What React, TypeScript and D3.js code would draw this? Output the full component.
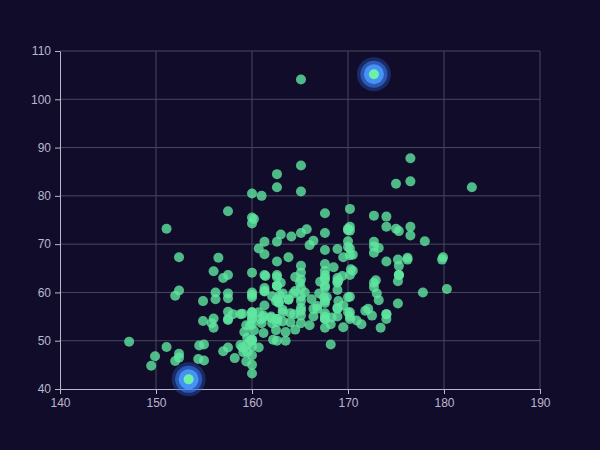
import React, { useEffect, useRef } from 'react';
import * as d3 from 'd3';

// height (cm), weight (kg)
const heights: number[] = [
  161.2, 167.5, 159.5, 157.0, 155.8, 170.0, 159.1, 166.0, 176.2, 160.2,
  172.5, 170.9, 172.9, 153.4, 160.0, 147.2, 168.2, 175.0, 157.0, 167.6,
  159.5, 175.0, 166.8, 176.5, 170.2, 174.0, 173.0, 179.9, 170.5, 160.0,
  154.4, 162.0, 176.5, 160.0, 152.0, 162.1, 170.0, 160.2, 161.3, 166.4,
  168.9, 163.8, 167.6, 160.0, 161.3, 167.6, 165.1, 160.0, 170.0, 157.5,
  167.6, 160.7, 163.2, 152.4, 157.5, 168.3, 180.3, 165.5, 165.0, 164.5,
  156.0, 160.0, 163.0, 165.7, 161.0, 162.0, 166.0, 174.0, 172.7, 167.6,
  151.1, 164.5, 163.5, 152.0, 169.0, 164.0, 161.2, 155.0, 170.0, 176.2,
  170.0, 162.5, 170.3, 164.1, 169.5, 163.2, 154.5, 159.8, 173.2, 170.0,
  161.4, 169.0, 166.2, 159.4, 162.5, 159.0, 162.8, 159.0, 179.8, 162.9,
  161.0, 151.1, 168.2, 168.9, 173.2, 171.8, 178.0, 164.3, 163.0, 168.5,
  166.8, 172.7, 163.5, 169.4, 167.8, 159.5, 167.6, 161.2, 160.0, 163.2,
  162.2, 161.3, 149.5, 157.5, 163.2, 172.7, 155.0, 156.5, 164.0, 160.9,
  162.8, 167.0, 160.0, 160.0, 168.9, 158.2, 156.0, 160.0, 167.1, 158.0,
  167.6, 156.0, 162.1, 173.4, 159.8, 170.5, 159.2, 157.5, 161.3, 162.6,
  160.0, 168.9, 165.1, 162.6, 165.1, 166.4, 160.0, 152.4, 170.2, 162.6,
  170.2, 158.8, 172.7, 167.6, 162.6, 167.6, 156.2, 175.2, 172.1, 162.6,
  160.0, 165.1, 182.9, 166.4, 165.1, 177.8, 165.1, 175.3, 154.9, 158.8,
  172.7, 168.9, 161.3, 167.6, 165.1, 175.3, 157.5, 163.8, 167.6, 165.1,
  165.1, 168.9, 162.6, 164.5, 176.5, 168.9, 175.3, 159.4, 160.0, 170.2,
  162.6, 167.6, 162.6, 160.7, 160.0, 157.5, 162.6, 152.4, 170.2, 165.1,
  172.7, 165.1, 170.2, 170.2, 170.2, 161.3, 167.6, 167.6, 165.1, 162.6,
  152.4, 168.9, 170.2, 175.2, 175.2, 160.0, 165.1, 174.0, 170.2, 160.0,
  167.6, 167.6, 167.6, 154.9, 162.6, 175.3, 171.4, 157.5, 165.1, 160.0,
  174.0, 162.6, 174.0, 162.6, 161.3, 156.2, 149.9, 169.5, 160.0, 175.3,
  169.5, 160.0, 172.7, 162.6, 157.5, 176.5, 164.4, 160.7, 174.0, 163.8
];
const weights: number[] = [
  51.6, 59.0, 49.2, 63.0, 53.6, 59.0, 47.6, 69.8, 66.8, 75.2,
  55.2, 54.2, 62.5, 42.0, 50.0, 49.8, 49.2, 73.2, 47.8, 68.8,
  50.6, 82.5, 57.2, 87.8, 72.8, 54.5, 59.8, 67.3, 67.8, 47.0,
  46.2, 55.0, 83.0, 54.4, 45.8, 53.6, 73.2, 52.1, 67.9, 56.6,
  62.3, 58.5, 54.5, 50.2, 60.3, 58.3, 56.2, 50.2, 72.9, 59.8,
  61.0, 69.1, 55.9, 46.5, 54.3, 54.8, 60.7, 60.0, 62.0, 60.3,
  52.7, 74.3, 62.0, 73.1, 80.0, 54.7, 53.2, 75.7, 61.1, 55.7,
  48.7, 52.3, 50.0, 59.3, 62.5, 55.7, 54.8, 45.9, 70.6, 67.2,
  69.4, 58.2, 64.8, 71.6, 52.8, 59.8, 49.0, 50.0, 69.2, 55.9,
  63.4, 58.2, 58.6, 45.7, 52.2, 48.6, 57.8, 55.6, 66.8, 59.4,
  53.6, 73.2, 53.4, 69.0, 58.4, 56.2, 70.6, 59.8, 72.0, 65.2,
  56.6, 105.2, 51.8, 63.4, 59.0, 47.6, 63.0, 55.2, 45.0, 54.0,
  50.2, 60.2, 44.8, 58.8, 56.4, 62.0, 49.2, 67.2, 53.8, 54.4,
  58.0, 59.8, 54.8, 43.2, 60.5, 46.4, 64.4, 48.8, 62.2, 55.5,
  57.8, 54.6, 59.2, 52.7, 53.2, 64.5, 51.8, 56.0, 63.6, 63.2,
  59.5, 56.8, 64.1, 50.0, 72.3, 55.0, 55.9, 60.4, 69.1, 84.5,
  55.9, 55.5, 69.5, 76.4, 61.4, 65.9, 58.6, 66.8, 56.6, 58.6,
  55.9, 59.1, 81.8, 70.7, 56.8, 60.0, 58.2, 72.7, 54.1, 49.1,
  75.9, 55.0, 57.3, 55.0, 65.5, 65.5, 48.6, 58.6, 63.6, 55.2,
  62.7, 56.6, 53.9, 63.2, 73.6, 62.0, 63.6, 53.2, 53.4, 55.0,
  70.5, 54.5, 54.5, 55.9, 59.0, 63.6, 54.5, 47.3, 67.7, 80.9,
  70.5, 60.9, 63.6, 54.5, 59.1, 70.5, 52.7, 62.7, 86.3, 66.4,
  67.3, 63.0, 73.6, 62.3, 57.7, 55.4, 104.1, 55.5, 77.3, 80.5,
  64.5, 72.3, 61.4, 58.2, 81.8, 63.6, 53.4, 54.5, 53.6, 60.0,
  73.6, 61.4, 55.5, 63.6, 60.9, 60.0, 46.8, 57.3, 64.1, 63.6,
  67.3, 75.5, 68.2, 61.4, 76.8, 71.8, 55.5, 48.6, 66.4, 67.3
];
// highlighted points (ripple effect)
const effectHeights: number[] = [172.7, 153.4];
const effectWeights: number[] = [105.2, 42.0];

const xTicks: number[] = [140, 150, 160, 170, 180, 190];
const yTicks: number[] = [40, 50, 60, 70, 80, 90, 100, 110];

const App: React.FC = () => {
  const ref = useRef<SVGSVGElement | null>(null);

  useEffect(() => {
    document.body.style.margin = '0';
    document.body.style.background = '#100c2a';
    if (!ref.current) return;
    const svg = d3.select(ref.current);
    svg.selectAll('*').remove();

    const W = 600, H = 450;
    const margin = { top: 51, right: 60, bottom: 61, left: 60 };

    svg.append('rect').attr('width', W).attr('height', H).attr('fill', '#100c2a');

    const x = d3.scaleLinear().domain([140, 190]).range([margin.left, W - margin.right]);
    const y = d3.scaleLinear().domain([40, 110]).range([H - margin.bottom, margin.top]);

    const grid = svg.append('g');
    grid.selectAll('line.v').data(xTicks.slice(1)).enter().append('line')
      .attr('x1', d => x(d)).attr('x2', d => x(d))
      .attr('y1', y(40)).attr('y2', y(110))
      .attr('stroke', '#4a4960').attr('stroke-width', 1);
    grid.selectAll('line.h').data(yTicks.slice(1)).enter().append('line')
      .attr('x1', x(140)).attr('x2', x(190))
      .attr('y1', d => y(d)).attr('y2', d => y(d))
      .attr('stroke', '#4a4960').attr('stroke-width', 1);

    const axisColor = '#b9b8ce';
    const xAxis = svg.append('g')
      .attr('transform', `translate(0,${y(40)})`)
      .call(d3.axisBottom(x).tickValues(xTicks).tickSize(5).tickPadding(4).tickSizeOuter(0));
    const yAxis = svg.append('g')
      .attr('transform', `translate(${x(140)},0)`)
      .call(d3.axisLeft(y).tickValues(yTicks).tickSize(5).tickPadding(4).tickSizeOuter(0));
    [xAxis, yAxis].forEach(a => {
      a.select('.domain').attr('stroke', axisColor);
      a.selectAll('.tick line').attr('stroke', axisColor);
      a.selectAll('.tick text')
        .attr('fill', axisColor)
        .style('font-size', '12px')
        .style('font-family', 'sans-serif');
    });

    const pts = heights.map((h, i) => ({ h, w: weights[i] }));
    svg.append('g').selectAll('circle').data(pts).enter().append('circle')
      .attr('cx', d => x(d.h)).attr('cy', d => y(d.w)).attr('r', 5)
      .attr('fill', '#5fe6a0').attr('fill-opacity', 0.8);

    // ripple rings around the highlighted points
    const eff = effectHeights.map((h, i) => ({ h, w: effectWeights[i] }));
    const eg = svg.append('g').selectAll('g').data(eff).enter().append('g')
      .attr('transform', d => `translate(${x(d.h)},${y(d.w)})`);
    eg.append('circle').attr('r', 17).attr('fill', '#2d64d8').attr('fill-opacity', 0.35);
    eg.append('circle').attr('r', 13.5).attr('fill', '#3a80f5').attr('fill-opacity', 0.55);
    eg.append('circle').attr('r', 10).attr('fill', '#4a9dff').attr('fill-opacity', 0.85);
    eg.append('circle').attr('r', 5).attr('fill', '#6ef0a8');
  }, []);

  return (
    <svg ref={ref} width={600} height={450} style={{ display: 'block' }} />
  );
};

export default App;
